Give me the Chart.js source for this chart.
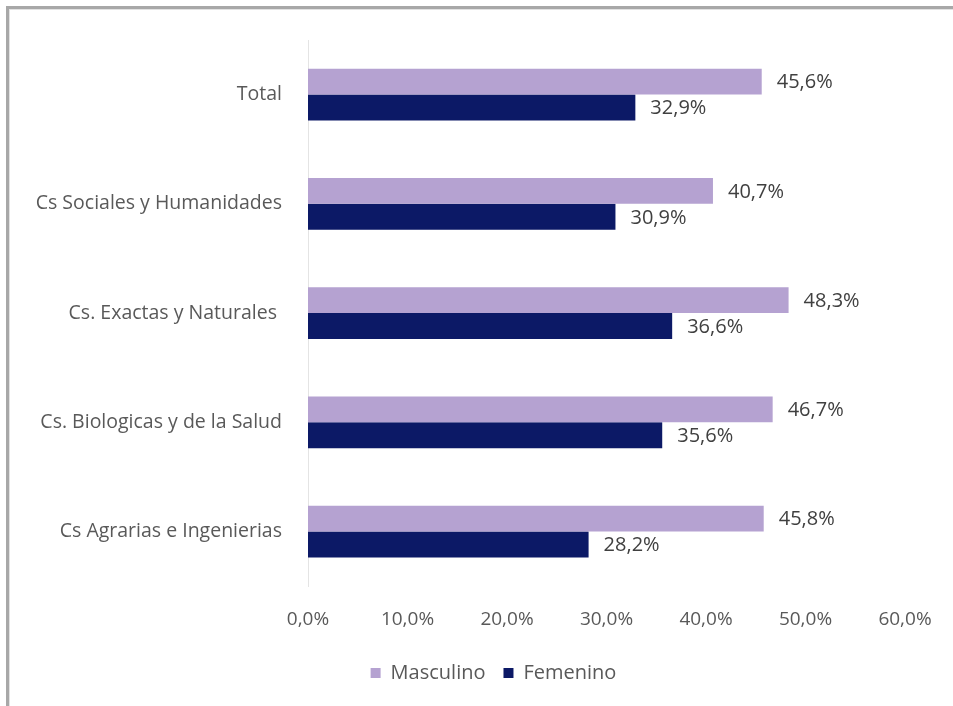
<!DOCTYPE html>
<html>
<head>
<meta charset="utf-8">
<script src="https://cdn.jsdelivr.net/npm/chart.js@4.4.1/dist/chart.umd.min.js"></script>
<style>
  html, body { margin: 0; padding: 0; background: #fff; overflow: hidden; }
  #chart { display: block; }
</style>
</head>
<body>
<canvas id="chart" width="953" height="706"></canvas>
<script>
  var categories = [
    'Total',
    'Cs Sociales y Humanidades',
    'Cs. Exactas y Naturales ',
    'Cs. Biologicas y de la Salud',
    'Cs Agrarias e Ingenierias'
  ];
  var masculino = [45.6, 40.7, 48.3, 46.7, 45.8];
  var femenino = [32.9, 30.9, 36.6, 35.6, 28.2];
  var xMin = 0, xMax = 60, xStep = 10;

  var COLORS = {
    masculino: '#b5a2d1',
    femenino: '#0c1966',
    text: '#595959',
    label: '#404040',
    frame: '#a8a8a8'
  };

  var FONT = "'Open Sans', Lato, sans-serif";
  var AXIS_X = 308;       // left edge of the plot area
  var LEGEND_SHIFT = 41;  // legend sits right of centre

  function pct(v) {
    return v.toFixed(1).replace('.', ',') + '%';
  }

  Chart.defaults.font.family = FONT;
  Chart.defaults.font.size = 19;
  Chart.defaults.color = COLORS.text;

  /* grey frame along the top and left edge of the canvas */
  var frame = {
    id: 'frame',
    beforeDraw: function (chart) {
      var ctx = chart.ctx;
      ctx.save();
      ctx.fillStyle = COLORS.frame;
      ctx.fillRect(6, 6, chart.width, 3);
      ctx.fillRect(6, 6, 3, chart.height);
      ctx.fillStyle = '#e2e2e2';
      ctx.fillRect(9, 9, chart.width, 1);
      ctx.fillRect(9, 9, 1, chart.height);
      ctx.restore();
    }
  };

  /* value labels just past the end of each bar */
  var barLabels = {
    id: 'barLabels',
    afterDatasetsDraw: function (chart) {
      var ctx = chart.ctx;
      ctx.save();
      ctx.font = '20px ' + FONT;
      ctx.fillStyle = COLORS.label;
      ctx.textAlign = 'left';
      ctx.textBaseline = 'middle';
      chart.data.datasets.forEach(function (ds, i) {
        chart.getDatasetMeta(i).data.forEach(function (bar, j) {
          ctx.fillText(pct(ds.data[j]), bar.x + 15, bar.y + 1);
        });
      });
      ctx.restore();
    }
  };

  /* nudge the legend box to the right */
  var legendShift = {
    id: 'legendShift',
    afterLayout: function (chart) {
      if (!chart.legend) return;
      chart.legend.left += LEGEND_SHIFT;
      chart.legend.right += LEGEND_SHIFT;
    }
  };

  new Chart(document.getElementById('chart'), {
    type: 'bar',
    data: {
      labels: categories,
      datasets: [
        {
          label: 'Masculino',
          data: masculino,
          backgroundColor: COLORS.masculino,
          categoryPercentage: 0.475,
          barPercentage: 1.0
        },
        {
          label: 'Femenino',
          data: femenino,
          backgroundColor: COLORS.femenino,
          categoryPercentage: 0.475,
          barPercentage: 1.0
        }
      ]
    },
    options: {
      indexAxis: 'y',
      responsive: false,
      animation: false,
      layout: {
        padding: { top: 40, left: 0, right: 48, bottom: 13 }
      },
      plugins: {
        tooltip: { enabled: false },
        legend: {
          position: 'bottom',
          labels: {
            boxWidth: 10,
            boxHeight: 10,
            padding: 18,
            color: COLORS.text,
            font: { size: 20 }
          }
        }
      },
      scales: {
        x: {
          min: xMin,
          max: xMax,
          ticks: {
            stepSize: xStep,
            padding: 14,
            callback: function (v) { return pct(v); }
          },
          grid: { display: false },
          border: { display: false }
        },
        y: {
          ticks: { padding: 18, font: { size: 19.5 } },
          grid: { display: false },
          border: { display: true, color: '#e4e4e4' },
          afterFit: function (scale) { scale.width = AXIS_X; }
        }
      }
    },
    plugins: [frame, barLabels, legendShift]
  });
</script>
</body>
</html>
